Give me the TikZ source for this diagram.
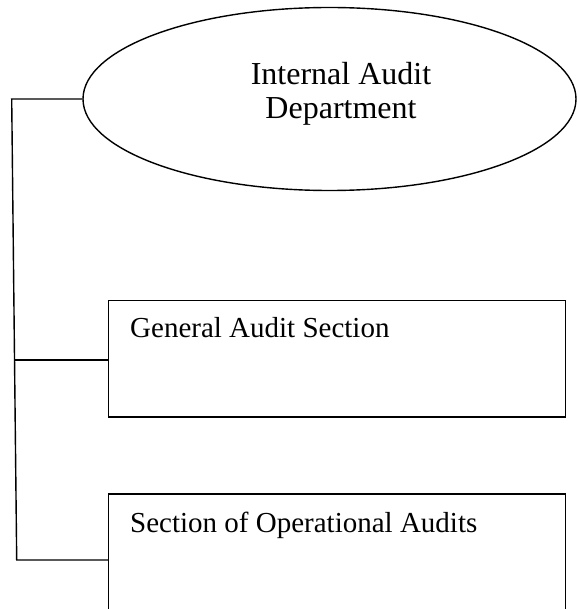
\documentclass[tikz,border=0pt]{standalone}
\usepackage{fontspec}
\setmainfont{Liberation Serif}
\usetikzlibrary{shapes.geometric}
\begin{document}
\begin{tikzpicture}[x=1pt,y=1pt,
  line/.style={line width=1.4pt,black},
  headellipse/.style={ellipse,draw,line width=1.4pt,inner sep=0pt,minimum width=493pt,minimum height=183pt},
  unitbox/.style={rectangle,draw,line width=1.4pt,inner sep=0pt,minimum width=457pt,minimum height=116.5pt},
  bigtext/.style={font=\fontsize{32}{34}\selectfont,align=center,inner sep=0pt},
  boxtext/.style={font=\fontsize{29}{34}\selectfont,anchor=base west,inner sep=0pt}]
\useasboundingbox (0,0) rectangle (576,-609);
\node[headellipse] (dept) at (329.5,-99) {};
\node[bigtext,anchor=base] (deptlabel) at (341,-119) {Internal Audit\\Department};
\node[unitbox] (box1) at (337.2,-358.9) {};
\node[boxtext] (box1label) at (130,-337) {General Audit Section};
\node[unitbox] (box2) at (337.2,-552.3) {};
\node[boxtext] (box2label) at (130,-532) {Section of Operational Audits};
\coordinate (ctop) at (11.7,-99);
\coordinate (cmid) at (14,-360);
\coordinate (cbot) at (16.7,-560);
\draw[line] (dept.west) -- (ctop) -- (cbot) -- (box2.west |- cbot);
\draw[line] (cmid) -- (box1.west |- cmid);
\end{tikzpicture}
\end{document}
